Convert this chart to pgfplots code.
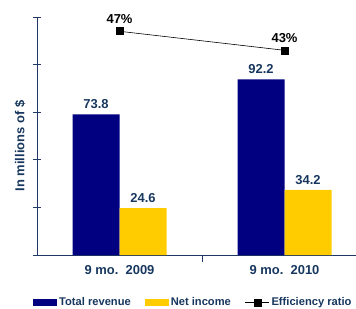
\documentclass[border=0pt]{standalone}
\usepackage{pgfplots}
\pgfplotsset{compat=1.18}
\usepackage{fontspec}
\setmainfont{Liberation Sans}
\definecolor{navy}{RGB}{0,0,128}
\definecolor{gold}{RGB}{255,204,0}
\definecolor{txtblue}{RGB}{23,55,94}
\definecolor{axblue}{RGB}{31,56,100}
\begin{document}
\begin{tikzpicture}[font=\bfseries]
\begin{axis}[
  at={(0,0)}, anchor=south west,
  scale only axis, width=319bp, height=238bp,
  xmin=-0.5, xmax=1.433, ymin=0, ymax=125,
  /pgf/number format/assume math mode=true,
  axis lines*=left,
  axis line style={axblue, line width=0.8pt},
  xtick={0.5}, xticklabels={},
  extra x ticks={0,1},
  extra x tick labels={9 mo.\ \ 2009, 9 mo.\ \ 2010},
  extra x tick style={major tick length=0pt, tick label style={font=\fontsize{13}{15}\selectfont\bfseries, text=txtblue, yshift=-7bp}},
  ytick={0,25,...,125}, yticklabels={},
  tick align=center, major tick length=7bp,
  tick style={axblue, line width=0.8pt},
  ylabel={In millions of \$},
  ylabel style={at={(axis description cs:-0.0533,0.458)}, anchor=center,
    font=\fontsize{13}{15}\selectfont\bfseries, text=txtblue},
  ybar, bar width=47bp,
  nodes near coords,
  nodes near coords style={font=\fontsize{13}{15}\selectfont\bfseries, text=txtblue, yshift=2bp},
  legend style={at={(axis description cs:0.49,-0.2)}, anchor=center, draw=none, fill=none,
    font=\fontsize{11.2}{12}\selectfont\bfseries, text=txtblue,
    /tikz/every even column/.append style={column sep=12bp}},
  legend columns=3,
]
\addplot[draw=none, fill=navy, bar shift=-23.5bp,
  legend image code/.code={\fill[navy] (0bp,-3.5bp) rectangle (24bp,3.5bp);}]
  coordinates {(0,73.8) (1,92.2)};
\addlegendentry{Total revenue}
\addplot[draw=none, fill=gold, bar shift=23.5bp,
  legend image code/.code={\fill[gold] (0bp,-3.5bp) rectangle (24bp,3.5bp);}]
  coordinates {(0,24.6) (1,34.2)};
\addlegendentry{Net income}
\addlegendimage{legend image code/.code={\draw[black, line width=0.6pt] (0bp,0bp) -- (24bp,0bp); \fill[black] (8.5bp,-3.5bp) rectangle (15.5bp,3.5bp);}}
\addlegendentry{Efficiency ratio}
\end{axis}
\begin{axis}[
  at={(0,0)}, anchor=south west,
  scale only axis, width=319bp, height=238bp,
  xmin=-0.5, xmax=1.433, ymin=0, ymax=50,
  /pgf/number format/assume math mode=true,
  hide axis,
]
\addplot[black, line width=0.6pt, mark=square*, mark size=3.5bp,
  nodes near coords={\pgfmathprintnumber{\pgfplotspointmeta}\%},
  nodes near coords style={font=\fontsize{13}{15}\selectfont\bfseries, text=black, yshift=4bp}]
  coordinates {(0,47) (1,43)};
\end{axis}
\pgfresetboundingbox
\path[use as bounding box] (-37bp,-54bp) rectangle (319bp,255bp);
\end{tikzpicture}
\end{document}
